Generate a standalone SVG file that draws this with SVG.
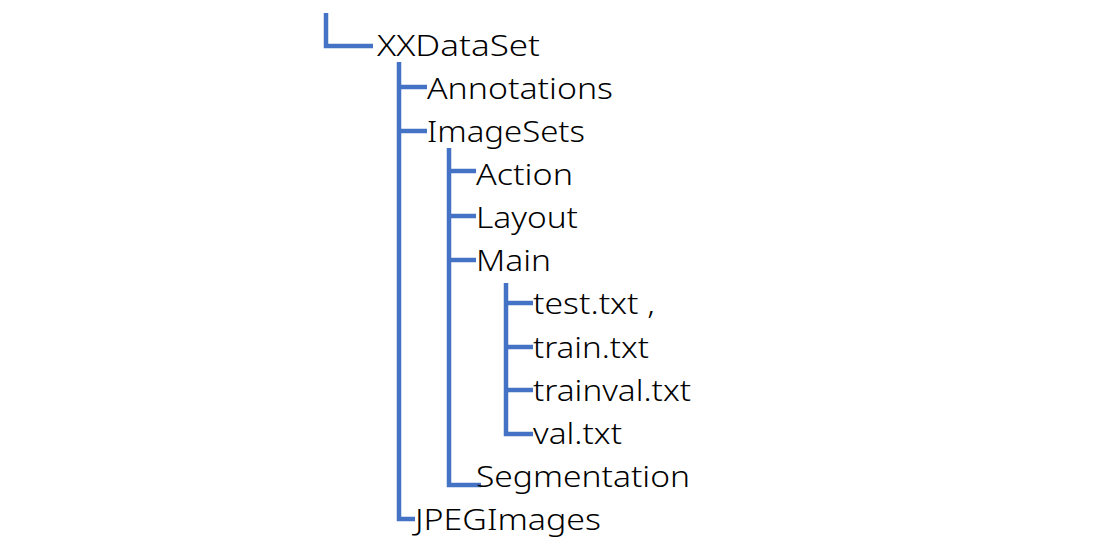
<svg xmlns="http://www.w3.org/2000/svg" width="1109" height="549" viewBox="0 0 1109 549">
<style>
.c{fill:none;stroke:#4472C4;stroke-width:4.5;stroke-linejoin:miter}
.t{font-family:"Noto Sans","Open Sans","Liberation Sans",sans-serif;font-weight:300;font-size:30px;fill:#000}
</style>
<rect width="1109" height="549" fill="#fff"/>
<g id="connectors">
<path class="c" d="M326 13 V46 H373"/>
<path class="c" d="M399 62 V519 H415"/>
<path class="c" d="M399 87 H427"/>
<path class="c" d="M399 131 H427"/>
<path class="c" d="M449 148 V485 H481"/>
<path class="c" d="M449 171 H476"/>
<path class="c" d="M449 216 H476"/>
<path class="c" d="M449 260 H476"/>
<path class="c" d="M506 283 V434 H533"/>
<path class="c" d="M506 303 H533"/>
<path class="c" d="M506 347 H533"/>
<path class="c" d="M506 390 H533"/>
</g>
<g id="n-xxdataset"><text class="t" x="377" y="56" textLength="163" lengthAdjust="spacingAndGlyphs">XXDataSet</text></g>
<g id="n-annotations"><text class="t" x="427" y="99" textLength="186" lengthAdjust="spacingAndGlyphs">Annotations</text></g>
<g id="n-imagesets"><text class="t" x="427" y="142" textLength="158" lengthAdjust="spacingAndGlyphs">ImageSets</text></g>
<g id="n-action"><text class="t" x="476" y="185" textLength="97" lengthAdjust="spacingAndGlyphs">Action</text></g>
<g id="n-layout"><text class="t" x="476" y="228" textLength="102" lengthAdjust="spacingAndGlyphs">Layout</text></g>
<g id="n-main"><text class="t" x="476" y="271" textLength="75" lengthAdjust="spacingAndGlyphs">Main</text></g>
<g id="n-test"><text class="t" x="533" y="314" textLength="122" lengthAdjust="spacingAndGlyphs">test.txt ,</text></g>
<g id="n-train"><text class="t" x="533" y="358" textLength="116" lengthAdjust="spacingAndGlyphs">train.txt</text></g>
<g id="n-trainval"><text class="t" x="533" y="401" textLength="158" lengthAdjust="spacingAndGlyphs">trainval.txt</text></g>
<g id="n-val"><text class="t" x="533" y="444" textLength="89" lengthAdjust="spacingAndGlyphs">val.txt</text></g>
<g id="n-segmentation"><text class="t" x="476" y="487" textLength="214" lengthAdjust="spacingAndGlyphs">Segmentation</text></g>
<g id="n-jpegimages"><text class="t" x="415" y="530" textLength="186" lengthAdjust="spacingAndGlyphs">JPEGImages</text></g>
</svg>
